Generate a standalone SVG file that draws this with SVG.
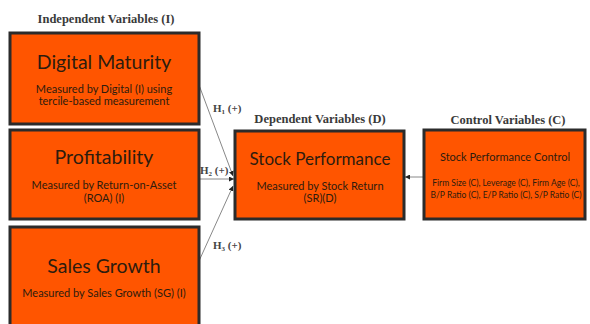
<svg xmlns="http://www.w3.org/2000/svg" width="590" height="324" viewBox="0 0 590 324">
<defs>
<style>
.box{fill:#FF5500;stroke:#2b2b2b;stroke-width:3}
.t{font-family:Lato,"Open Sans",sans-serif;fill:#2e1c0e;text-anchor:middle}
.big{font-size:19.5px}
.mid{font-size:17px}
.sm{font-size:11px}
.xs{font-size:8.5px}
.hd{font-family:"Liberation Serif","Times New Roman",serif;font-size:12.5px;fill:#3a3a3a;text-anchor:middle;font-weight:bold}
.h{font-family:"Liberation Serif","Times New Roman",serif;font-size:11px;fill:#444;font-weight:bold}
.c{stroke:#888;stroke-width:1;fill:none}
</style>
<marker id="ah" viewBox="0 0 10 10" refX="10" refY="5" markerWidth="5" markerHeight="5" orient="auto">
<path d="M0,0 L10,5 L0,10 z" fill="#222"/>
</marker>
</defs>
<rect width="590" height="324" fill="#fff"/>
<text class="hd" x="106" y="23">Independent Variables (I)</text>
<text class="hd" x="320" y="123">Dependent Variables (D)</text>
<text class="hd" x="508" y="124">Control Variables (C)</text>
<g id="connectors">
<line class="c" x1="199" y1="85" x2="233" y2="176" marker-end="url(#ah)"/>
<line class="c" x1="199" y1="179" x2="234" y2="179" marker-end="url(#ah)"/>
<line class="c" x1="199" y1="261" x2="233" y2="186" marker-end="url(#ah)"/>
<line class="c" x1="424" y1="177" x2="405" y2="177" marker-end="url(#ah)"/>
<text class="h" x="213" y="112">H<tspan font-size="7" dy="2">1</tspan><tspan dy="-2"> (+)</tspan></text>
<text class="h" x="200" y="174">H<tspan font-size="7" dy="2">2</tspan><tspan dy="-2"> (+)</tspan></text>
<text class="h" x="213" y="249">H<tspan font-size="7" dy="2">3</tspan><tspan dy="-2"> (+)</tspan></text>
</g>
<g id="digital">
<rect class="box" x="10" y="33" width="189" height="91"/>
<text class="t big" x="104" y="69">Digital Maturity</text>
<text class="t sm" x="104" y="93">Measured by Digital (I) using</text>
<text class="t sm" x="104" y="105">tercile-based measurement</text>
</g>
<g id="profit">
<rect class="box" x="10" y="130" width="189" height="89"/>
<text class="t big" x="104" y="164">Profitability</text>
<text class="t sm" x="104" y="189">Measured by Return-on-Asset</text>
<text class="t sm" x="104" y="202">(ROA) (I)</text>
</g>
<g id="sales">
<rect class="box" x="10" y="227" width="189" height="100"/>
<text class="t big" x="104" y="273">Sales Growth</text>
<text class="t sm" x="104" y="297">Measured by Sales Growth (SG) (I)</text>
</g>
<g id="stock">
<rect class="box" x="235" y="131" width="169" height="88"/>
<text class="t mid" x="320" y="165">Stock Performance</text>
<text class="t sm" x="320" y="190">Measured by Stock Return</text>
<text class="t sm" x="320" y="202">(SR)(D)</text>
</g>
<g id="control">
<rect class="box" x="424" y="130" width="161" height="89"/>
<text class="t" font-size="11" x="505" y="161">Stock Performance Control</text>
<text class="t xs" x="506" y="186">Firm Size (C), Leverage (C), Firm Age (C),</text>
<text class="t xs" x="506" y="198">B/P Ratio (C), E/P Ratio (C), S/P Ratio (C)</text>
</g>
</svg>
